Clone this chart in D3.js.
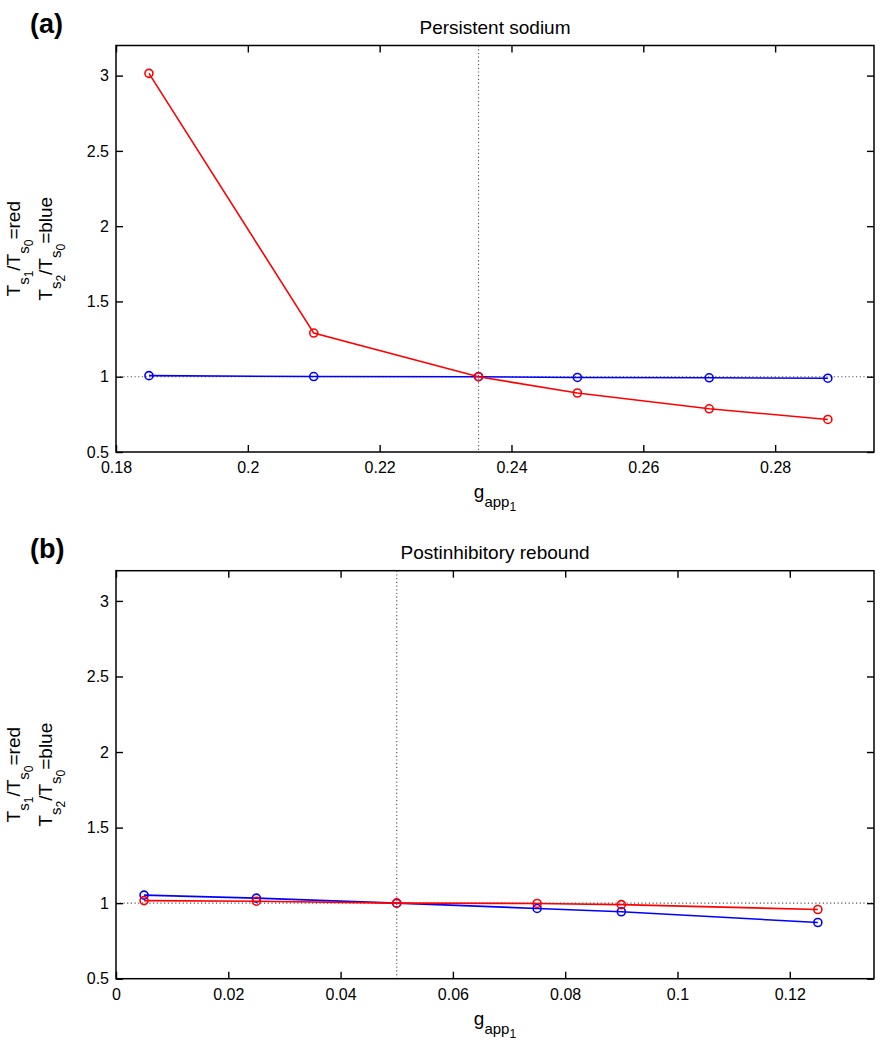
<!DOCTYPE html>
<html>
<head>
<meta charset="utf-8">
<script src="https://cdn.jsdelivr.net/npm/d3@7"></script>
<style>
  html, body { margin: 0; padding: 0; background: #fff; }
  svg { display: block; }
  text { font-family: "Liberation Sans", Arial, Helvetica, sans-serif; fill: #000; }
</style>
</head>
<body>
<svg id="chart" width="892" height="1050"></svg>
<script>
// ---- Data ----
const xA = [0.185, 0.21, 0.235, 0.25, 0.27, 0.288];
const redA = [3.015, 1.29, 1.0, 0.892, 0.787, 0.716];
const blueA = [1.007, 1.001, 1.0, 0.995, 0.993, 0.99];

const xB = [0.005, 0.025, 0.05, 0.075, 0.09, 0.125];
const redB = [1.017, 1.013, 1.0, 0.998, 0.99, 0.958];
const blueB = [1.053, 1.033, 1.0, 0.965, 0.943, 0.872];

const xTicksA = [0.18, 0.2, 0.22, 0.24, 0.26, 0.28];
const xTicksB = [0, 0.02, 0.04, 0.06, 0.08, 0.1, 0.12];
const yTicks = [0.5, 1, 1.5, 2, 2.5, 3];

const xDomainA = [0.18, 0.295];
const xDomainB = [0, 0.135];
const yDomain = [0.5, 3.2];

const refXA = 0.235, refXB = 0.05, refY = 1;
const titles = ["Persistent sodium", "Postinhibitory rebound"];
const panelLabels = ["(a)", "(b)"];

// ---- Layout ----
const svg = d3.select("#chart");
const left = 116, right = 874;
const panels = [
  { top: 45.5, bottom: 452, xs: xA, red: redA, blue: blueA, xt: xTicksA, xd: xDomainA, refX: refXA, title: titles[0], label: panelLabels[0] },
  { top: 570.7, bottom: 978.7, xs: xB, red: redB, blue: blueB, xt: xTicksB, xd: xDomainB, refX: refXB, title: titles[1], label: panelLabels[1] }
];

const fmt = d3.format("~g");

panels.forEach((p, i) => {
  const x = d3.scaleLinear().domain(p.xd).range([left, right]);
  const y = d3.scaleLinear().domain(yDomain).range([p.bottom, p.top]);
  const g = svg.append("g");

  // reference dotted lines
  g.append("line")
    .attr("x1", x(p.refX)).attr("x2", x(p.refX))
    .attr("y1", p.top).attr("y2", p.bottom)
    .attr("stroke", "#555").attr("stroke-width", 1.1).attr("stroke-dasharray", "1.2,2.5");
  g.append("line")
    .attr("x1", left).attr("x2", right)
    .attr("y1", y(refY)).attr("y2", y(refY))
    .attr("stroke", "#555").attr("stroke-width", 1.1).attr("stroke-dasharray", "1.2,2.5");

  // axes
  const axB = g.append("g").attr("transform", `translate(0,${p.bottom})`)
    .call(d3.axisBottom(x).tickValues(p.xt).tickFormat(fmt).tickSize(-7).tickPadding(10));
  const axT = g.append("g").attr("transform", `translate(0,${p.top})`)
    .call(d3.axisTop(x).tickValues(p.xt).tickFormat("").tickSize(-7));
  const axL = g.append("g").attr("transform", `translate(${left},0)`)
    .call(d3.axisLeft(y).tickValues(yTicks).tickFormat(fmt).tickSize(-7).tickPadding(7));
  const axR = g.append("g").attr("transform", `translate(${right},0)`)
    .call(d3.axisRight(y).tickValues(yTicks).tickFormat("").tickSize(-7));
  [axB, axT, axL, axR].forEach(a => {
    a.select(".domain").remove();
    a.selectAll(".tick line").attr("stroke", "#000").attr("stroke-width", 1.4);
    a.selectAll("text").attr("font-size", 16)
      .attr("font-family", '"Liberation Sans", Arial, sans-serif').attr("fill", "#000");
  });

  // box
  g.append("rect")
    .attr("x", left).attr("y", p.top)
    .attr("width", right - left).attr("height", p.bottom - p.top)
    .attr("fill", "none").attr("stroke", "#000").attr("stroke-width", 1.5);

  // series
  const series = [
    { vals: p.blue, color: "#0000ff" },
    { vals: p.red, color: "#ff0000" }
  ];
  const line = d3.line().x(d => x(d[0])).y(d => y(d[1]));
  series.forEach(s => {
    const pts = p.xs.map((xv, k) => [xv, s.vals[k]]);
    g.append("path").datum(pts)
      .attr("d", line).attr("fill", "none")
      .attr("stroke", s.color).attr("stroke-width", 1.6);
    g.selectAll(null).data(pts).enter().append("circle")
      .attr("cx", d => x(d[0])).attr("cy", d => y(d[1])).attr("r", 4)
      .attr("fill", "none").attr("stroke", s.color).attr("stroke-width", 1.6);
  });

  // title
  g.append("text").attr("x", (left + right) / 2).attr("y", p.top - 12)
    .attr("text-anchor", "middle").attr("font-size", 19).text(p.title);

  // panel label
  g.append("text").attr("x", 30).attr("y", p.top - 13)
    .attr("font-size", 27).attr("font-weight", "bold").text(p.label);

  // x label
  const xl = g.append("text").attr("x", (left + right) / 2).attr("y", p.bottom + 46)
    .attr("text-anchor", "middle").attr("font-size", 19);
  xl.append("tspan").text("g");
  xl.append("tspan").attr("font-size", 15).attr("dy", 9).text("app");
  xl.append("tspan").attr("font-size", 12).attr("dy", 4).text("1");

  // y label (two rotated lines)
  const cy = (p.top + p.bottom) / 2;
  const lines = [
    { bx: 20, sub: "1", tail: "=red" },
    { bx: 52, sub: "2", tail: "=blue" }
  ];
  lines.forEach(L => {
    const t = g.append("text")
      .attr("transform", `translate(${L.bx},${cy}) rotate(-90)`)
      .attr("text-anchor", "middle").attr("font-size", 19);
    t.append("tspan").text("T");
    t.append("tspan").attr("font-size", 15).attr("dy", 9).text("s");
    t.append("tspan").attr("font-size", 12).attr("dy", 4).text(L.sub);
    t.append("tspan").attr("dy", -13).text("/T");
    t.append("tspan").attr("font-size", 15).attr("dy", 9).text("s");
    t.append("tspan").attr("font-size", 12).attr("dy", 4).text("0");
    t.append("tspan").attr("dy", -13).text(L.tail);
  });
});
</script>
</body>
</html>
